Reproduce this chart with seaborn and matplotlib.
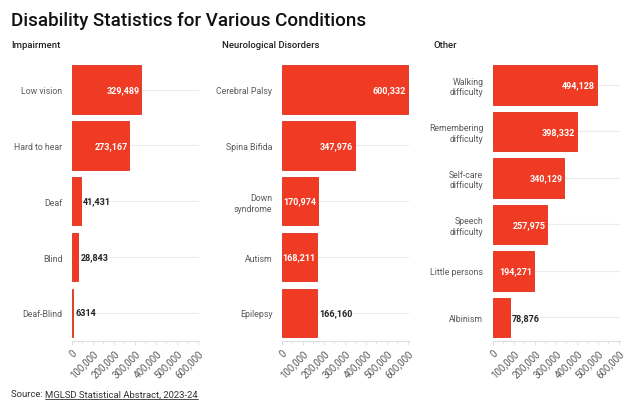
import matplotlib
matplotlib.use("Agg")
import matplotlib.pyplot as plt
import seaborn as sns
import pandas as pd
from matplotlib.ticker import FuncFormatter, MultipleLocator

panel_titles = ["Impairment", "Neurological Disorders", "Other"]

impairment_labels = ["Low vision", "Hard to hear", "Deaf", "Blind", "Deaf-Blind"]
impairment_values = [329489, 273167, 41431, 28843, 6314]

neuro_labels = ["Cerebral Palsy", "Spina Bifida", "Down\nsyndrome", "Autism", "Epilepsy"]
neuro_values = [600332, 347976, 170974, 168211, 166160]

other_labels = ["Walking\ndifficulty", "Remembering\ndifficulty", "Self-care\ndifficulty",
                "Speech\ndifficulty", "Little persons", "Albinism"]
other_values = [494128, 398332, 340129, 257975, 194271, 78876]

x_ticks = [0, 100000, 200000, 300000, 400000, 500000, 600000]

sns.set_theme(style="white")
plt.rcParams['font.family'] = ['Roboto', 'DejaVu Sans']

RED = "#EF3B24"
EDGE = "#E0301A"
GRAY_TXT = "#5A5A5A"
GRID = "#EBEBEB"

fig = plt.figure(figsize=(6.4, 4.14), dpi=100)

panels = [(impairment_labels, impairment_values, 72, 0.87),
          (neuro_labels, neuro_values, 282, 0.87),
          (other_labels, other_values, 493, 0.85)]

ax_bottom = 72.3 / 414
ax_height = 279 / 414
ax_w = 127 / 640

for (labels, values, left_px, bw), title in zip(panels, panel_titles):
    ax = fig.add_axes([left_px / 640, ax_bottom, ax_w, ax_height])
    df = pd.DataFrame({"label": labels, "value": values})
    sns.barplot(data=df, y="label", x="value", orient="h", color=RED,
                saturation=1, width=bw, edgecolor=EDGE, linewidth=0.6, ax=ax, zorder=3)
    ax.set_xlim(0, 605000)
    ax.set_ylim(len(labels) - 0.5, -0.5)
    ax.set_xticks(x_ticks)
    ax.xaxis.set_minor_locator(MultipleLocator(50000))
    ax.xaxis.set_major_formatter(FuncFormatter(lambda v, p: f"{int(v):,}"))
    for t in ax.get_xticklabels():
        t.set_rotation(45)
        t.set_ha("right")
        t.set_rotation_mode("anchor")
    ax.tick_params(axis="x", which="major", length=3, width=0.6, color="#DDDDDD",
                   labelsize=7, labelcolor=GRAY_TXT, pad=2, bottom=True)
    ax.tick_params(axis="x", which="minor", length=2, width=0.5, color="#DDDDDD", bottom=True)
    ax.tick_params(axis="y", length=0, labelsize=6.3, labelcolor=GRAY_TXT, pad=7)
    for t in ax.get_yticklabels():
        t.set_multialignment("right")
    ax.set_xlabel("")
    ax.set_ylabel("")
    for s in ["top", "right", "left"]:
        ax.spines[s].set_visible(False)
    ax.spines["bottom"].set_color("#DDDDDD")
    ax.spines["bottom"].set_linewidth(0.8)
    ax.grid(axis="y", color=GRID, linewidth=0.8, zorder=0)
    ax.grid(axis="x", visible=False)
    ax.set_axisbelow(True)
    for i, v in enumerate(values):
        txt = f"{v:,}" if v >= 10000 else str(v)
        if v > 167000:
            ax.text(v - 8000, i, txt, ha="right", va="center", color="white",
                    fontsize=6.5, fontweight="bold", zorder=5)
        else:
            ax.text(v + 12000, i, txt, ha="left", va="center", color="#222222",
                    fontsize=6.5, fontweight="bold", zorder=5)

fig.text(11 / 640, 1 - 21 / 414, "Disability Statistics for Various Conditions",
         fontsize=13.5, fontweight="medium", color="#111111", va="center", ha="left")
for title, x in zip(panel_titles, [11, 222, 434]):
    fig.text(x / 640, 1 - 46 / 414, title, fontsize=6.8, fontweight="medium",
             color="#222222", va="center", ha="left")

src = fig.text(11 / 640, 1 - 395 / 414, "Source: ", fontsize=6.8, color="#333333",
               va="center", ha="left")
fig.canvas.draw()
bb = src.get_window_extent()
link = fig.text(bb.x1 / 640, 1 - 395 / 414, "MGLSD Statistical Abstract, 2023-24",
                fontsize=6.8, color="#333333", va="center", ha="left")
fig.canvas.draw()
bb2 = link.get_window_extent()
fig.add_artist(plt.Line2D([bb2.x0 / 640, bb2.x1 / 640], [(bb2.y0 - 0.5) / 414] * 2,
                          color="#333333", linewidth=0.6, transform=fig.transFigure))

fig.savefig("out.png", dpi=100)
